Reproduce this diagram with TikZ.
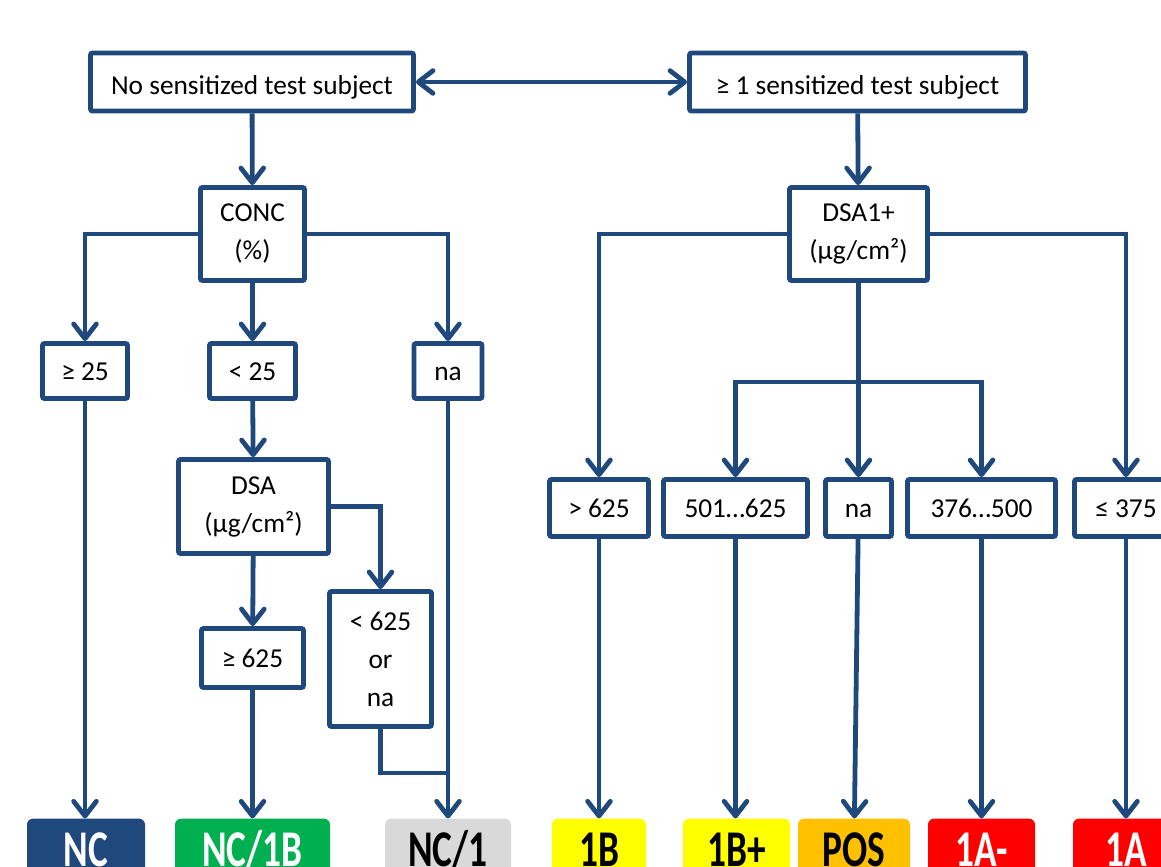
\documentclass[tikz,border=0pt]{standalone}
\usepackage{fontspec}
\setmainfont{Carlito}
\usetikzlibrary{arrows.meta}
\definecolor{flowblue}{RGB}{31,73,125}
\definecolor{ncgreen}{RGB}{0,176,80}
\definecolor{ncgray}{RGB}{217,217,217}
\definecolor{catyellow}{RGB}{255,255,0}
\definecolor{posorange}{RGB}{255,192,0}
\definecolor{catred}{RGB}{255,0,0}
\newcommand{\tallcat}[1]{\scalebox{1}[1.38]{#1}}
\tikzset{
  cbox/.style 2 args={draw=flowblue, line width=3.6pt, fill=white, rounded corners=1.5pt,
    inner sep=0pt, align=center, minimum width=#1*0.75pt, minimum height=#2*0.75pt,
    font=\fontsize{20.5}{28.5}\selectfont},
  oneline/.style={text height=13.5pt, text depth=0pt},
  topline/.style={text height=19pt, text depth=0pt},
  catbox/.style n args={3}{fill=#1, text=#2, rounded corners=4.5pt, inner sep=0pt,
    minimum width=#3*0.75pt, minimum height=47pt, text height=25pt, text depth=0pt,
    font=\fontsize{28}{30}\selectfont\bfseries},
  flow/.style={draw=flowblue, line width=3.6pt},
}
\begin{document}
\begin{tikzpicture}[x=0.75pt,y=-0.75pt,>={Straight Barb[length=11pt,width=17pt,round]}]
\useasboundingbox (0,0) rectangle (1161,867);
\node[cbox={323}{58},topline] (nosens) at (252,82) {No sensitized test subject};
\node[cbox={336}{58},topline] (onesens) at (857.5,82) {≥ 1 sensitized test subject};
\node[cbox={104}{93}] (conc) at (252.5,234) {CONC\\(\%)};
\node[cbox={138}{93}] (dsaplus) at (858.5,234) {DSA1+\\(µg/cm²)};
\node[cbox={85}{55},oneline] (ge25) at (85,371) {≥ 25};
\node[cbox={86}{55},oneline] (lt25) at (252.5,371) {< 25};
\node[cbox={68}{55},oneline] (naL) at (448,371) {na};
\node[cbox={150}{94}] (dsa) at (253.5,506.5) {DSA\\(µg/cm²)};
\node[cbox={102}{59},oneline] (ge625) at (252.5,658) {≥ 625};
\node[cbox={102}{135}] (lt625) at (380.5,659) {< 625\\or\\na};
\node[cbox={99}{57},oneline] (gt625) at (599,508) {> 625};
\node[cbox={144}{57},oneline] (r501) at (735.5,508) {501…625};
\node[cbox={66}{57},oneline] (naR) at (858.5,508) {na};
\node[cbox={148}{57},oneline] (r376) at (981.5,508) {376…500};
\node[cbox={103}{57},oneline] (le375) at (1126,508) {≤ 375};
\node[catbox={flowblue}{white}{118}] (nc) at (86,850) {\tallcat{NC}};
\node[catbox={ncgreen}{white}{155}] (nc1b) at (252.5,850) {\tallcat{NC/1B}};
\node[catbox={ncgray}{black}{126}] (nc1) at (448,850) {\tallcat{NC/1}};
\node[catbox={catyellow}{black}{94}] (b1b) at (599,850) {\tallcat{1B}};
\node[catbox={catyellow}{black}{107}] (b1bp) at (736.5,850) {\tallcat{1B+}};
\node[catbox={posorange}{black}{112}] (pos) at (854,850) {\tallcat{POS}};
\node[catbox={catred}{white}{107}] (a1am) at (981.5,850) {\tallcat{1A-}};
\node[catbox={catred}{white}{106}] (a1a) at (1126,850) {\tallcat{1A}};
\coordinate (merge) at (448,773);
\coordinate (split) at (858.5,382);
\draw[flow,<->] (nosens) -- (onesens);
\draw[flow,->] (nosens) -- (conc);
\draw[flow,->] (onesens) -- (dsaplus);
\draw[flow,->] (conc.west) -| (ge25.north);
\draw[flow,->] (conc.east) -| (naL.north);
\draw[flow,->] (conc) -- (lt25);
\draw[flow,->] (lt25) -- (dsa);
\draw[flow,->] (dsa) -- (ge625);
\draw[flow,->] (dsa.east) -| (lt625.north);
\draw[flow,->] (ge25) -- (ge25 |- nc.north);
\draw[flow,->] (ge625) -- (ge625 |- nc1b.north);
\draw[flow,->] (naL) -- (nc1);
\draw[flow] (lt625.south) |- (merge);
\draw[flow,->] (dsaplus.west) -| (gt625.north);
\draw[flow,->] (dsaplus.east) -| (le375.north);
\draw[flow,->] (dsaplus) -- (naR);
\draw[flow,->] (split) -| (r501.north);
\draw[flow,->] (split) -| (r376.north);
\draw[flow,->] (gt625) -- (gt625 |- b1b.north);
\draw[flow,->] (r501) -- (r501 |- b1bp.north);
\draw[flow,->] (naR) -- (pos);
\draw[flow,->] (r376) -- (r376 |- a1am.north);
\draw[flow,->] (le375) -- (le375 |- a1a.north);
\end{tikzpicture}
\end{document}
